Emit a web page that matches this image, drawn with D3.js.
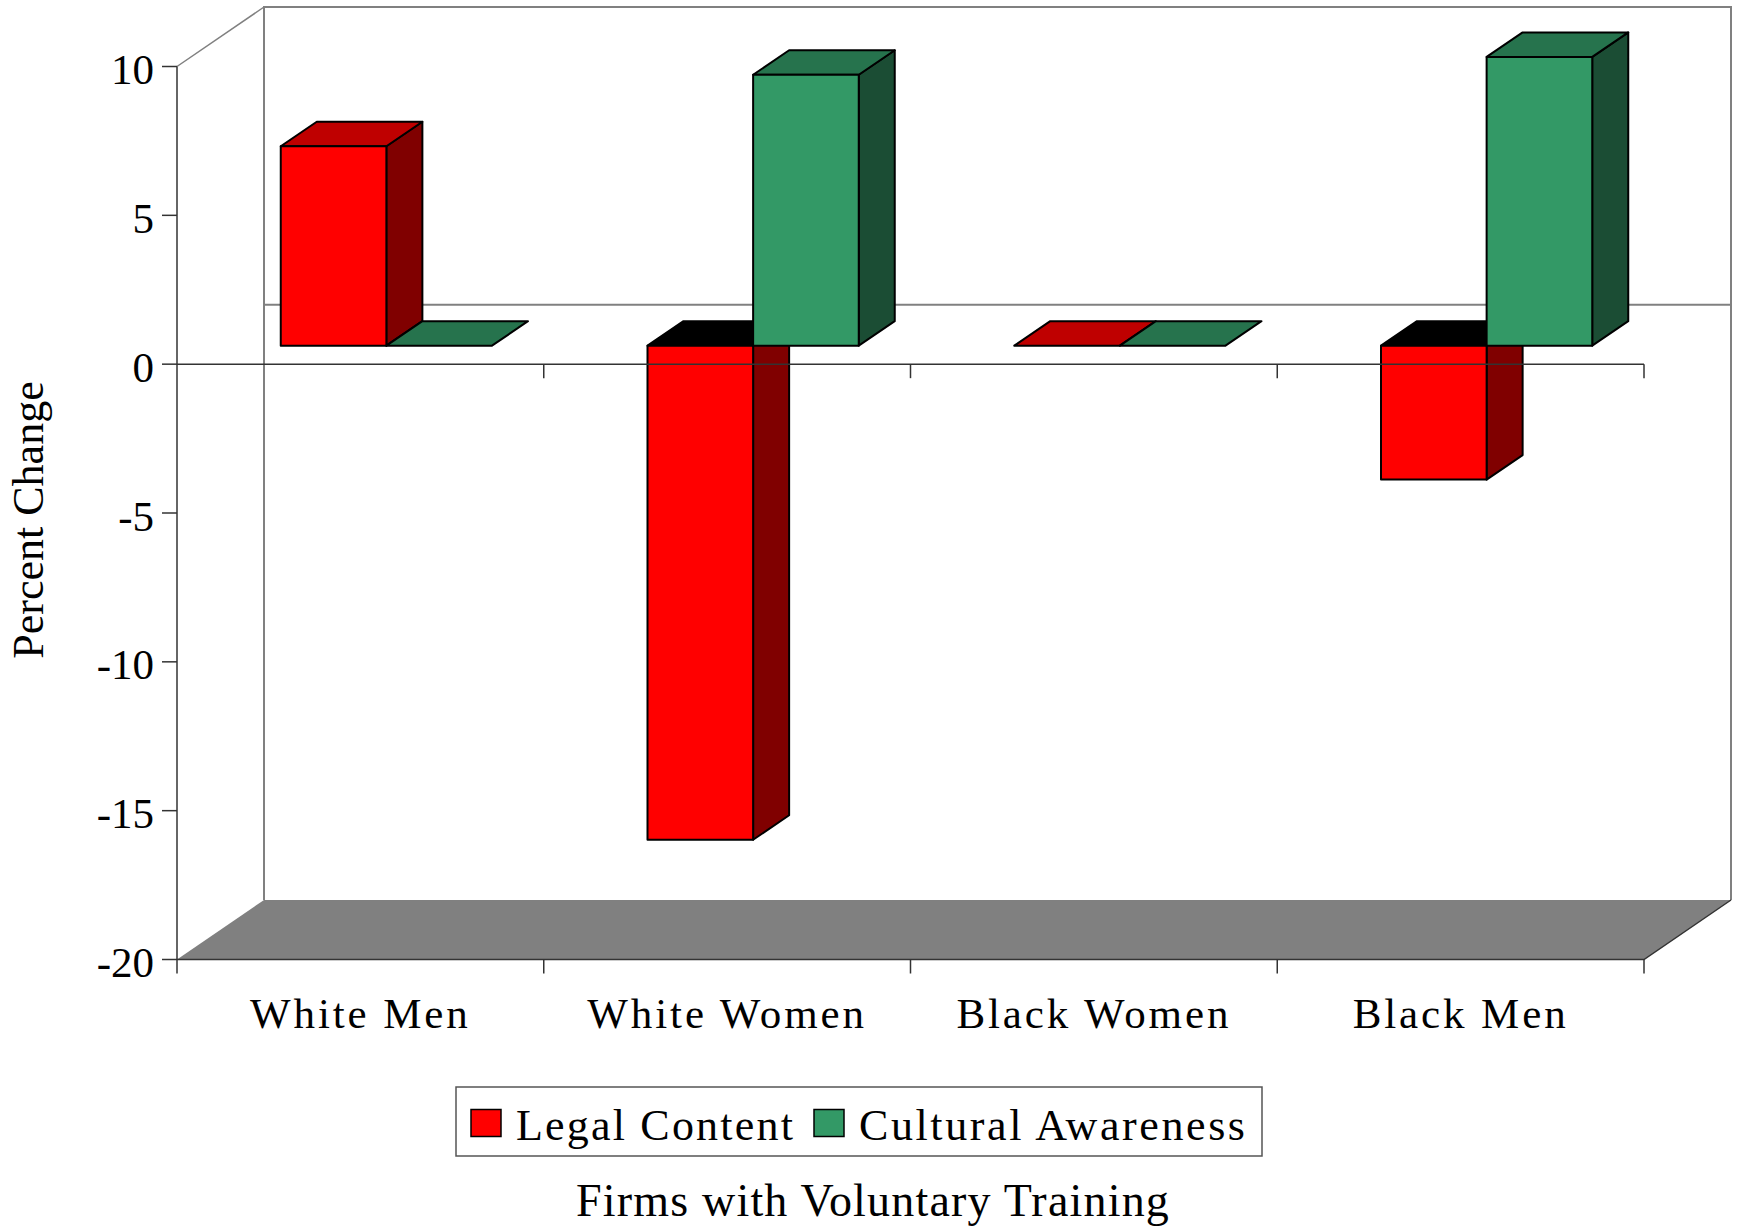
<!DOCTYPE html>
<html>
<head>
<meta charset="utf-8">
<script src="https://cdn.jsdelivr.net/npm/d3@7"></script>
<style>
  html, body { margin: 0; padding: 0; background: #fff; }
  svg { display: block; }
  text { font-family: "Liberation Serif", "Times New Roman", serif; fill: #000; }
</style>
</head>
<body>
<svg id="chart" width="1746" height="1227"></svg>
<script>
// Percent change by group, split by training type
const categories = ["White Men", "White Women", "Black Women", "Black Men"];
const legalContent = [6.7, -16.6, 0, -4.5];
const culturalAwareness = [0, 9.1, 0, 9.7];
const seriesNames = ["Legal Content", "Cultural Awareness"];
const yTicks = [10, 5, 0, -5, -10, -15, -20];
const yTitle = "Percent Change";
const xTitle = "Firms with Voluntary Training";

// Face colours: front, top, side
const seriesColors = [
  { front: "#FF0000", top: "#BF0000", side: "#800000" },
  { front: "#339966", top: "#26734D", side: "#1B4D34" }
];

(function () {
  const svg = d3.select("#chart");

  // Front plane of the 3D box
  const plotLeft = 177, plotRight = 1644, plotTop = 66.5, plotBottom = 959.5;
  const y = d3.scaleLinear().domain([-20, 10]).range([plotBottom, plotTop]);
  const x = d3.scaleBand().domain(categories).range([plotLeft, plotRight]);

  // Oblique depth vectors
  const wall = { dx: 87, dy: -59.5 };      // back wall offset
  const barFront = { dx: 26, dy: -18.5 };  // front face of bars
  const barDepth = { dx: 36, dy: -24.5 };  // depth of each bar

  const barW = x.bandwidth() * 0.288;
  const groupGap = (x.bandwidth() - 2 * barW) / 2;
  const sub = d3.scaleBand().domain([0, 1]).range([0, 2 * barW]);

  const pts = a => a.map(p => p.join(",")).join(" ");

  // Floor
  svg.append("polygon")
    .attr("points", pts([[plotLeft, y(-20)], [plotRight, y(-20)],
      [plotRight + wall.dx, y(-20) + wall.dy], [plotLeft + wall.dx, y(-20) + wall.dy]]))
    .attr("fill", "#808080");

  // Back wall outline and its zero line
  const wallG = svg.append("g").attr("stroke", "#808080").attr("fill", "none").attr("stroke-width", 2);
  wallG.append("polyline")
    .attr("points", pts([[plotLeft + wall.dx, y(-20) + wall.dy], [plotLeft + wall.dx, y(10) + wall.dy],
      [plotRight + wall.dx, y(10) + wall.dy], [plotRight + wall.dx, y(-20) + wall.dy]]));
  wallG.append("line")
    .attr("x1", plotLeft + wall.dx).attr("x2", plotRight + wall.dx)
    .attr("y1", y(0) + wall.dy).attr("y2", y(0) + wall.dy);
  wallG.append("line").attr("stroke-width", 1.5)
    .attr("x1", plotLeft).attr("y1", y(10))
    .attr("x2", plotLeft + wall.dx).attr("y2", y(10) + wall.dy);

  // Floor front/right edges
  svg.append("polyline")
    .attr("points", pts([[plotLeft, y(-20)], [plotRight, y(-20)], [plotRight + wall.dx, y(-20) + wall.dy]]))
    .attr("fill", "none").attr("stroke", "#333").attr("stroke-width", 1.5);

  // Bars
  const yBar = v => y(v) + barFront.dy;
  const barsG = svg.append("g")
    .attr("stroke", "#000").attr("stroke-width", 2).attr("stroke-linejoin", "round");

  function drawBar(x0, v, c) {
    const y0 = yBar(0), yv = yBar(v);
    const t = Math.min(y0, yv), b = Math.max(y0, yv);
    const { dx, dy } = barDepth;
    const g = barsG.append("g");
    if (b > t) {
      g.append("polygon").attr("fill", c.side)
        .attr("points", pts([[x0 + barW, t], [x0 + barW + dx, t + dy], [x0 + barW + dx, b + dy], [x0 + barW, b]]));
    }
    g.append("polygon").attr("fill", v < 0 ? "#000" : c.top)
      .attr("points", pts([[x0, t], [x0 + dx, t + dy], [x0 + barW + dx, t + dy], [x0 + barW, t]]));
    if (b > t) {
      g.append("rect").attr("fill", c.front)
        .attr("x", x0).attr("y", t).attr("width", barW).attr("height", b - t);
    }
  }

  const series = [legalContent, culturalAwareness];
  categories.forEach((cat, i) => {
    series.forEach((vals, s) => {
      const x0 = x(cat) + barFront.dx + groupGap + sub(s);
      drawBar(x0, vals[i], seriesColors[s]);
    });
  });

  // Front value axis
  const axisG = svg.append("g").attr("stroke", "#333").attr("stroke-width", 1.5);
  axisG.append("line").attr("x1", plotLeft).attr("x2", plotLeft).attr("y1", y(10)).attr("y2", y(-20));
  axisG.selectAll("line.ytick").data(yTicks).join("line").attr("class", "ytick")
    .attr("x1", plotLeft - 15).attr("x2", plotLeft).attr("y1", d => y(d)).attr("y2", d => y(d));
  svg.append("g").selectAll("text").data(yTicks).join("text")
    .attr("x", 154).attr("y", d => y(d) + 17.5)
    .attr("text-anchor", "end").attr("font-size", 43)
    .text(d => d);

  // Zero line across the front with category ticks
  axisG.append("line").attr("x1", plotLeft).attr("x2", plotRight).attr("y1", y(0)).attr("y2", y(0));
  const bounds = categories.map(c => x(c)).concat([plotRight]);
  axisG.selectAll("line.ztick").data(bounds.slice(1)).join("line").attr("class", "ztick")
    .attr("x1", d => d).attr("x2", d => d).attr("y1", y(0)).attr("y2", y(0) + 14);
  axisG.selectAll("line.btick").data(bounds).join("line").attr("class", "btick")
    .attr("x1", d => d).attr("x2", d => d).attr("y1", y(-20)).attr("y2", y(-20) + 14);

  // Category labels
  svg.append("g").selectAll("text").data(categories).join("text")
    .attr("x", d => x(d) + x.bandwidth() / 2).attr("y", 1028)
    .attr("text-anchor", "middle").attr("font-size", 43).attr("letter-spacing", 2.9)
    .text(d => d);

  // Axis titles
  svg.append("text")
    .attr("transform", "translate(43,520) rotate(-90)")
    .attr("text-anchor", "middle").attr("font-size", 44)
    .text(yTitle);
  svg.append("text")
    .attr("x", 873).attr("y", 1216)
    .attr("text-anchor", "middle").attr("font-size", 46).attr("letter-spacing", 1.2)
    .text(xTitle);

  // Legend
  const legend = svg.append("g");
  legend.append("rect")
    .attr("x", 456).attr("y", 1087).attr("width", 806).attr("height", 69)
    .attr("fill", "#fff").attr("stroke", "#555").attr("stroke-width", 1.5);
  const legendX = [471, 814];
  seriesNames.forEach((name, s) => {
    legend.append("rect")
      .attr("x", legendX[s]).attr("y", 1109.5).attr("width", 30).attr("height", 27)
      .attr("fill", seriesColors[s].front).attr("stroke", "#000").attr("stroke-width", 1.5);
    legend.append("text")
      .attr("x", legendX[s] + 45).attr("y", 1140)
      .attr("font-size", 44).attr("letter-spacing", s === 0 ? 2.2 : 2.6)
      .text(name);
  });
})();
</script>
</body>
</html>
